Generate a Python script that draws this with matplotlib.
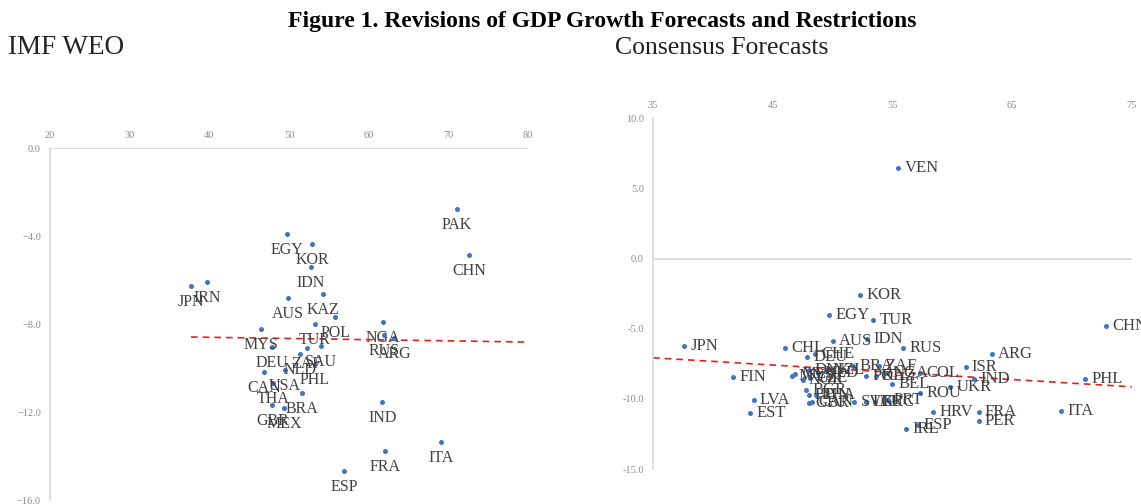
import matplotlib
matplotlib.use("Agg")
import matplotlib.pyplot as plt

# ---------------------------------------------------------------- data
weo_names = ["PAK", "CHN", "EGY", "KOR", "IDN", "JPN", "IRN", "KAZ", "AUS", "POL",
             "TUR", "MYS", "DEU", "SAU", "ZAF", "NLD", "PHL", "USA", "CAN", "THA",
             "BRA", "GBR", "MEX", "NGA", "RUS", "ARG", "IND", "FRA", "ITA", "ESP"]
weo_x = [71.1, 72.6, 49.7, 52.9, 52.7, 37.7, 39.7, 54.3, 49.9, 55.8,
         53.2, 46.5, 47.9, 54.0, 52.2, 51.4, 53.2, 49.5, 46.9, 48.0,
         51.6, 47.9, 49.4, 61.8, 61.9, 63.2, 61.7, 62.0, 69.1, 56.9]
weo_y = [-2.77, -4.86, -3.90, -4.36, -5.41, -6.27, -6.09, -6.64, -6.82, -7.68,
         -8.00, -8.23, -9.05, -9.00, -9.09, -9.36, -9.82, -10.09, -10.18, -10.68,
         -11.14, -11.68, -11.82, -7.91, -8.50, -8.64, -11.55, -13.77, -13.36, -14.68]
weo_trend_x = [37.7, 80.0]
weo_trend_y = [-8.59, -8.82]

cf_names = ["VEN", "KOR", "EGY", "TUR", "AUS", "IDN", "RUS", "JPN", "CHL", "CHE",
            "DEU", "FIN", "LVA", "EST", "CHN", "ARG", "ISR", "COL", "IND", "PHL",
            "UKR", "BEL", "ROU", "HRV", "FRA", "PER", "ITA", "ESP", "IRL", "ZAF",
            "BRA", "POL", "KAZ", "NGA", "DNK", "NZL", "NLD", "MYS", "MEX", "NOR",
            "CZE", "BGR", "HUN", "THA", "GBR", "CAN", "SVK", "LTU", "GRC", "PRT"]
cf_x = [55.5, 52.3, 49.7, 53.4, 50.0, 52.9, 55.9, 37.6, 46.0, 48.5,
        47.9, 41.7, 43.4, 43.1, 72.8, 63.3, 61.1, 57.3, 61.8, 71.1,
        59.8, 55.0, 57.3, 58.4, 62.2, 62.2, 69.1, 57.1, 56.1, 53.9,
        51.7, 52.8, 53.6, 54.5, 48.0, 49.5, 48.8, 46.6, 46.9, 47.5,
        48.1, 47.8, 48.0, 48.6, 48.0, 48.3, 51.8, 52.8, 53.5, 54.6]
cf_y = [6.48, -2.61, -3.99, -4.37, -5.86, -5.70, -6.38, -6.24, -6.40, -6.79,
        -7.04, -8.45, -10.11, -10.99, -4.79, -6.81, -7.76, -8.16, -8.59, -8.59,
        -9.16, -8.93, -9.59, -10.97, -10.97, -11.61, -10.85, -11.85, -12.13, -7.69,
        -7.66, -8.40, -8.40, -8.16, -7.93, -7.93, -8.16, -8.35, -8.25, -8.64,
        -8.52, -9.35, -9.71, -9.71, -10.26, -10.21, -10.19, -10.21, -10.21, -10.06]
cf_trend_x = [35.0, 75.0]
cf_trend_y = [-7.07, -9.14]

weo_xticks = [20, 30, 40, 50, 60, 70, 80]
weo_yticks = [0, -4, -8, -12, -16]
cf_xticks = [35, 45, 55, 65, 75]
cf_yticks = [10, 5, 0, -5, -10, -15]

# ---------------------------------------------------------------- style
SERIF = ["Liberation Serif", "DejaVu Serif"]
plt.rcParams["font.family"] = SERIF
DOT = "#4472C4"
LBL = "#404040"
AXC = "#d9d9d9"
TCK = "#8c8c8c"

fig = plt.figure(figsize=(11.41, 5.04), dpi=100)

fig.text(0.528, 0.958, "Figure 1. Revisions of GDP Growth Forecasts and Restrictions",
         ha="center", va="center", fontsize=17, fontweight="bold", color="black")
fig.text(0.007, 0.905, "IMF WEO", ha="left", va="center", fontsize=19.5, color="#222222")
fig.text(0.539, 0.905, "Consensus Forecasts", ha="left", va="center", fontsize=18.5,
         color="#222222")


def setup(ax, xticks, yticks, fmt_minus):
    for s in ["top", "right", "bottom", "left"]:
        ax.spines[s].set_visible(False)
    ax.spines["left"].set_visible(True)
    ax.spines["left"].set_color(AXC)
    ax.spines["left"].set_linewidth(1.2)
    ax.axhline(0, color=AXC, lw=1.2, zorder=1)
    ax.xaxis.tick_top()
    ax.set_xticks(xticks)
    ax.set_xticklabels([str(t) for t in xticks])
    ax.set_yticks(yticks)
    ax.set_yticklabels([f"{t:.1f}".replace("-", fmt_minus) for t in yticks])
    ax.tick_params(axis="x", length=0, pad=6, labelsize=7.5, labelcolor=TCK)
    ax.tick_params(axis="y", length=0, pad=6.5, labelsize=7.5, labelcolor=TCK)
    ax.set_facecolor("none")


# ---------------------------------------------------------------- IMF WEO
ax1 = fig.add_axes([0.0438, 0.0079, 0.4190, 0.6984])
setup(ax1, weo_xticks, weo_yticks, "\u2212")
ax1.set_xlim(20, 80)
ax1.set_ylim(-16, 0)
ax1.scatter(weo_x, weo_y, s=13, color=DOT, zorder=3, linewidths=0)
ax1.plot(weo_trend_x, weo_trend_y, color="#e0221c", lw=1.2, ls=(0, (4, 3)), zorder=2)
for n, x, y in zip(weo_names, weo_x, weo_y):
    ax1.annotate(n, (x, y), xytext=(0, -11.5), textcoords="offset points",
                 ha="center", va="center", fontsize=11.5, color=LBL, zorder=4)

# ---------------------------------------------------------------- Consensus
ax2 = fig.add_axes([0.5723, 0.0694, 0.4198, 0.6959])
setup(ax2, cf_xticks, cf_yticks, "-")
ax2.set_xlim(35, 75)
ax2.set_ylim(-15, 10)
ax2.scatter(cf_x, cf_y, s=13, color=DOT, zorder=3, linewidths=0)
ax2.plot(cf_trend_x, cf_trend_y, color="#e0221c", lw=1.2, ls=(0, (4, 3)), zorder=2)
for n, x, y in zip(cf_names, cf_x, cf_y):
    ax2.annotate(n, (x, y), xytext=(4.5, 0), textcoords="offset points",
                 ha="left", va="center", fontsize=12, color=LBL, zorder=4,
                 annotation_clip=False)

fig.savefig("out.png", dpi=100)
